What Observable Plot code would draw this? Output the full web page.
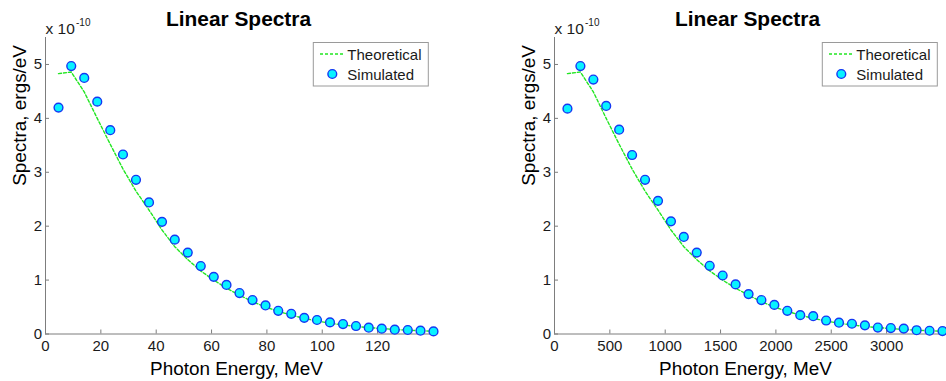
<!DOCTYPE html>
<html><head><meta charset="utf-8">
<script src="https://cdn.jsdelivr.net/npm/d3@7"></script>
<script src="https://cdn.jsdelivr.net/npm/@observablehq/plot@0.6"></script>
<style>
body{margin:0;background:#fff;}
#wrap{display:flex;width:946px;height:381px;overflow:hidden;}
#wrap svg{overflow:visible;flex:none;}
</style></head><body><div id="wrap"></div>
<script>
// Panel A: energy in MeV
const energyA = [4.7, 9.3, 14.0, 18.7, 23.4, 28.0, 32.7, 37.4, 42.1, 46.7, 51.4, 56.1, 60.8, 65.4, 70.1,
  74.8, 79.5, 84.1, 88.8, 93.5, 98.1, 102.8, 107.5, 112.2, 116.8, 121.5, 126.2, 130.9, 135.5, 140.2];
const simulatedA = [4.20, 4.97, 4.75, 4.31, 3.78, 3.33, 2.86, 2.44, 2.08, 1.75, 1.51, 1.26, 1.06, 0.91, 0.76,
  0.63, 0.53, 0.43, 0.375, 0.30, 0.26, 0.215, 0.185, 0.148, 0.117, 0.098, 0.08, 0.074, 0.061, 0.048];
const theoreticalA = [4.83, 4.86, 4.49, 4.00, 3.52, 3.06, 2.65, 2.30, 1.93, 1.62, 1.38, 1.17, 1.00, 0.85, 0.72,
  0.60, 0.50, 0.42, 0.35, 0.29, 0.24, 0.20, 0.17, 0.14, 0.12, 0.10, 0.085, 0.07, 0.06, 0.05];
// Panel B
const energyB = [117, 234, 351, 467, 584, 701, 818, 935, 1052, 1168, 1285, 1402, 1519, 1636, 1753,
  1869, 1986, 2103, 2220, 2337, 2454, 2570, 2687, 2804, 2921, 3038, 3155, 3271, 3388, 3505];
const simulatedB = [4.18, 4.97, 4.72, 4.23, 3.79, 3.32, 2.86, 2.47, 2.09, 1.80, 1.51, 1.265, 1.085, 0.92, 0.74,
  0.63, 0.54, 0.43, 0.35, 0.33, 0.25, 0.21, 0.19, 0.16, 0.12, 0.11, 0.10, 0.07, 0.06, 0.055];
const theoreticalB = [4.83, 4.86, 4.49, 4.00, 3.52, 3.06, 2.65, 2.30, 1.93, 1.62, 1.38, 1.17, 1.00, 0.85, 0.72,
  0.60, 0.50, 0.42, 0.35, 0.29, 0.24, 0.20, 0.17, 0.14, 0.12, 0.10, 0.085, 0.07, 0.06, 0.05];

const xTicksA = [0, 20, 40, 60, 80, 100, 120];
const xTicksB = [0, 500, 1000, 1500, 2000, 2500, 3000];
const yTicks = [0, 1, 2, 3, 4, 5];
const yMax = 5.5;
const titleText = "Linear Spectra";
const xLabelText = "Photon Energy, MeV";
const yLabelText = "Spectra, ergs/eV";
const exponentBase = "x 10";
const exponentText = "-10";
const legendNames = ["Theoretical", "Simulated"];

const FONT = "'Liberation Sans', Arial, Helvetica, sans-serif";
const AXIS = "#7d7d7d";
const TXT = "#1a1a1a";
const GREEN = "#22e622";
const CYAN = "#08f2ff";
const BLUE = "#1538f2";
const fmt = d => String(d);

function panel(energy, sim, theo, xTicks, marginLeft, marginRight) {
  const simData = energy.map((e, i) => ({e, v: sim[i]}));
  const theoData = energy.map((e, i) => ({e, v: theo[i]}));
  const W = 473, H = 381, mTop = 37, mBottom = 47.5;
  const plot = Plot.plot({
    width: W, height: H,
    marginLeft, marginRight, marginTop: mTop, marginBottom: mBottom,
    style: {fontFamily: FONT, color: TXT, background: "white", overflow: "visible"},
    x: {domain: [0, d3.max(energy)]},
    y: {domain: [0, yMax]},
    marks: [
      Plot.ruleY([0], {stroke: AXIS, strokeWidth: 1}),
      Plot.ruleX([0], {stroke: AXIS, strokeWidth: 1}),
      Plot.axisX(xTicks, {tickSize: -4, tickFormat: () => "", stroke: AXIS, label: null}),
      Plot.axisX(xTicks, {tickSize: 0, tickPadding: 6.5, tickFormat: fmt, fontSize: 15, fill: TXT, label: null}),
      Plot.axisY(yTicks, {tickSize: -4, tickFormat: () => "", stroke: AXIS, label: null}),
      Plot.axisY(yTicks, {tickSize: 0, tickPadding: 3.5, tickFormat: fmt, fontSize: 15, fill: TXT, label: null}),
      Plot.line(theoData, {x: "e", y: "v", stroke: GREEN, strokeWidth: 1.4, strokeDasharray: "3,2"}),
      Plot.dot(simData, {x: "e", y: "v", r: 4.4, fill: CYAN, stroke: BLUE, strokeWidth: 1.4}),
      Plot.text([titleText], {text: d => d, frameAnchor: "top", lineAnchor: "bottom", dy: -12, dx: -1,
        fontSize: 20.9, fontWeight: "bold", fill: "#000"}),
      Plot.text([exponentBase], {text: d => d, frameAnchor: "top-left", textAnchor: "start", lineAnchor: "bottom",
        dy: -3.5, dx: 0, fontSize: 15.5, fill: TXT}),
      Plot.text([exponentText], {text: d => d, frameAnchor: "top-left", textAnchor: "start", lineAnchor: "bottom",
        dy: -11.5, dx: 30.5, fontSize: 10, fill: TXT}),
      Plot.text([xLabelText], {text: d => d, frameAnchor: "bottom", lineAnchor: "bottom", dy: 40.5, dx: -3,
        fontSize: 18.9, fill: "#000"}),
      Plot.text([yLabelText], {text: d => d, frameAnchor: "left", lineAnchor: "bottom", rotate: -90, dx: -20,
        fontSize: 18.9, fill: "#000"})
    ]
  });
  // legend (box placed relative to the axes' top-right corner)
  const axRight = W - marginRight;
  const L = axRight - 119.7, T = mTop + 5.5;
  const g = d3.select(plot).append("g").attr("font-family", FONT).attr("font-size", 15)
    .attr("fill", TXT).attr("text-anchor", "start");
  g.append("rect").attr("x", L).attr("y", T).attr("width", 115).attr("height", 43.5)
    .attr("fill", "white").attr("stroke", "#9a9a9a").attr("stroke-width", 1);
  g.append("line").attr("x1", L + 6.7).attr("x2", L + 31.7).attr("y1", T + 11.5).attr("y2", T + 11.5)
    .attr("stroke", GREEN).attr("stroke-width", 1.4).attr("stroke-dasharray", "3,2");
  g.append("text").attr("x", L + 34).attr("y", T + 17).text(legendNames[0]);
  g.append("circle").attr("cx", L + 19).attr("cy", T + 31.5).attr("r", 4.4)
    .attr("fill", CYAN).attr("stroke", BLUE).attr("stroke-width", 1.4);
  g.append("text").attr("x", L + 34).attr("y", T + 37).text(legendNames[1]);
  return plot;
}

const wrap = document.getElementById("wrap");
wrap.append(panel(energyA, simulatedA, theoreticalA, xTicksA, 45, 40));
wrap.append(panel(energyB, simulatedB, theoreticalB, xTicksB, 81, 4));
</script></body></html>
